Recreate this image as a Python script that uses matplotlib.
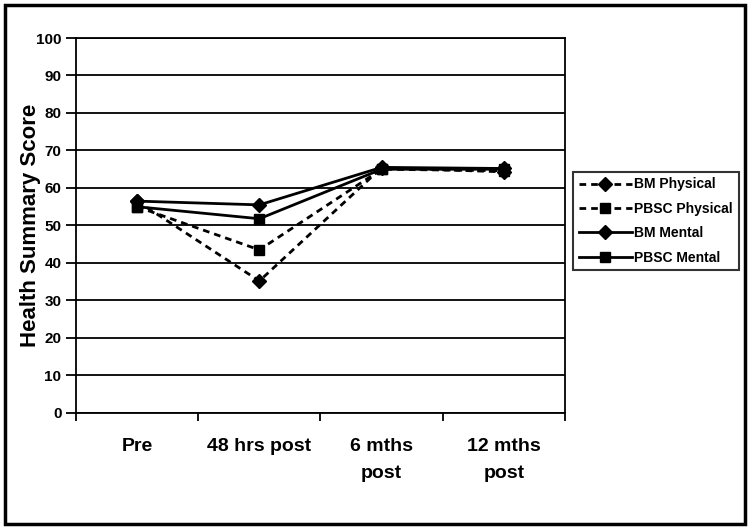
import numpy as np
import matplotlib
matplotlib.use('Agg')
import matplotlib.pyplot as plt
from matplotlib.patches import Rectangle

plt.rcParams['font.family'] = ['Liberation Sans', 'DejaVu Sans']
plt.rcParams['font.weight'] = 'bold'

categories = ['Pre', '48 hrs post', '6 mths\npost', '12 mths\npost']
bm_physical = [56.5, 35.2, 65.4, 64.3]
pbsc_physical = [55.0, 43.5, 65.0, 64.6]
bm_mental = [56.5, 55.5, 65.5, 65.2]
pbsc_mental = [55.0, 51.8, 65.0, 65.0]

fig = plt.figure(figsize=(7.5, 5.3), dpi=100)
ax = fig.add_axes([0.1013, 0.2208, 0.652, 0.7075])

x = np.arange(len(categories))
dash = (0, (2.4, 1.8))
ax.plot(x, bm_physical, color='black', lw=2, ls=dash, marker='D', ms=7, label='BM Physical')
ax.plot(x, pbsc_physical, color='black', lw=2, ls=dash, marker='s', ms=7, label='PBSC Physical')
ax.plot(x, bm_mental, color='black', lw=2, marker='D', ms=7, label='BM Mental')
ax.plot(x, pbsc_mental, color='black', lw=2, marker='s', ms=7, label='PBSC Mental')

ax.set_xlim(-0.5, 3.5)
ax.set_ylim(0, 100)
ax.set_yticks(range(0, 101, 10))
ax.yaxis.grid(True, color='black', lw=1.3)
ax.set_axisbelow(True)
ax.set_xticks(np.arange(-0.5, 3.6, 1))
ax.set_xticklabels([])
ax.set_xticks(x, minor=True)
ax.set_xticklabels(categories, minor=True, fontsize=14, fontweight='bold', linespacing=1.75)
ax.tick_params(axis='x', which='minor', length=0, pad=18)
ax.tick_params(axis='x', which='major', length=6, width=1.3, direction='out')
ax.tick_params(axis='y', length=7, width=1.3, labelsize=11)
for lbl in ax.get_yticklabels():
    lbl.set_fontweight('bold')
for sp in ax.spines.values():
    sp.set_linewidth(1.3)
ax.set_ylabel('Health Summary Score', fontsize=16, fontweight='bold', labelpad=-4)

leg = ax.legend(loc='upper left', bbox_to_anchor=(1.017, 0.643), frameon=True, fancybox=False,
                edgecolor='black', fontsize=10, handlelength=3.8, borderpad=0.4, labelspacing=0.75,
                handletextpad=0.2, borderaxespad=0)
leg.get_frame().set_linewidth(1.5)
for t in leg.get_texts():
    t.set_fontweight('bold')

fig.patches.append(Rectangle((0.006, 0.011), 0.987, 0.98, transform=fig.transFigure,
                             fill=False, edgecolor='black', lw=2.5))

fig.savefig('out.png', dpi=100)
